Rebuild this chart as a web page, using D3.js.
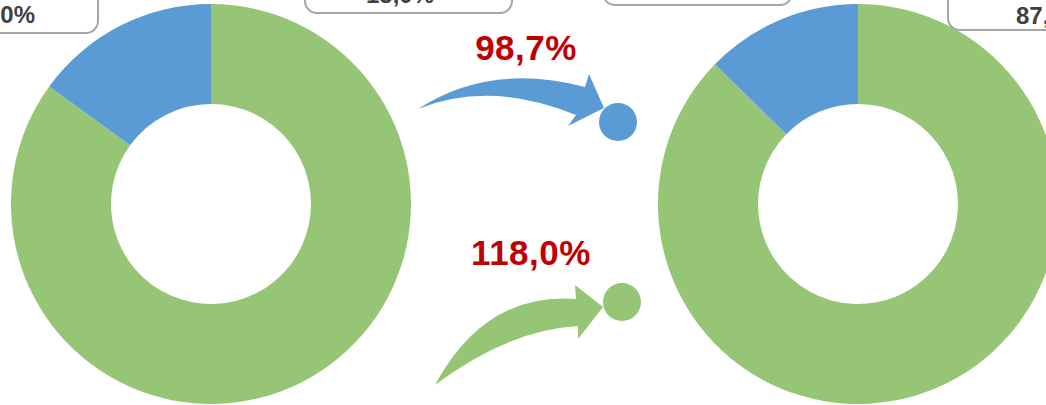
<!DOCTYPE html>
<html lang="en">
<head>
  <meta charset="utf-8">
  <title>Donut comparison</title>
  <script src="https://d3js.org/d3.v7.min.js"></script>
  <style>
    html, body { margin: 0; padding: 0; background: #fff; overflow: hidden; }
    svg { display: block; }
  </style>
</head>
<body>
  <svg width="1046" height="405"></svg>

  <script>
  // data
  const periods = ["Period 1", "Period 2"];
  const categories = ["Green", "Blue"];
  const shares = [
    [85.0, 15.0],
    [87.3, 12.7]
  ];
  const shareLabels = [["85,0%", "15,0%"], ["12,7%", "87,3%"]];
  const growthLabels = ["98,7%", "118,0%"];
  const colors = ["#96c675", "#5b9bd5"];

  const svg = d3.select("svg");
  const width = 1046, height = 405;

  const x = d3.scalePoint().domain(periods).range([211, 858]);
  const cy = 204;
  const outerR = 200, innerR = 100;

  const pie = d3.pie().sort(null).value(d => d);
  const arc = d3.arc().innerRadius(innerR).outerRadius(outerR);

  // Draw the donuts
  periods.forEach((p, i) => {
    svg.append("g")
      .attr("transform", `translate(${x(p)},${cy})`)
      .selectAll("path")
      .data(pie(shares[i]))
      .enter().append("path")
      .attr("d", arc)
      .attr("fill", (d, j) => colors[j]);
  });

  // Data label boxes (mostly off the top edge)
  const boxes = [
    {x0: -90, x1: 98, y1: 33, text: shareLabels[0][0], tx: 35, ty: 23, anchor: "end"},
    {x0: 305, x1: 512, y1: 13, text: shareLabels[0][1], tx: 400, ty: 3, anchor: "middle"},
    {x0: 603, x1: 792, y1: 5, text: shareLabels[1][0], tx: 697, ty: -8, anchor: "middle"},
    {x0: 948, x1: 1140, y1: 30, text: shareLabels[1][1], tx: 1016, ty: 24, anchor: "start"}
  ];
  const lab = svg.append("g");
  lab.selectAll("rect")
    .data(boxes)
    .enter().append("rect")
    .attr("x", d => d.x0)
    .attr("y", d => d.y1 - 60)
    .attr("width", d => d.x1 - d.x0)
    .attr("height", 60)
    .attr("rx", 12)
    .attr("fill", "#fff")
    .attr("stroke", "#a6a6a6")
    .attr("stroke-width", 2);
  lab.selectAll("text")
    .data(boxes)
    .enter().append("text")
    .attr("x", d => d.tx)
    .attr("y", d => d.ty)
    .attr("text-anchor", d => d.anchor)
    .attr("font-family", "'Liberation Sans', Arial, sans-serif")
    .attr("font-weight", "bold")
    .attr("font-size", 24)
    .attr("fill", "#404040")
    .text(d => d.text);

  // Growth arrows
  const arrows = [
    {
      color: colors[1],
      d: "M418,109 Q490,62 585,87 L589,74 L604,108 L568,126 L576,115 Q490,80 418,109 Z",
      dot: [618, 122],
      label: growthLabels[0], lx: 526, ly: 60
    },
    {
      color: colors[0],
      d: "M435,385 Q485,292 576,299 L575,285 L603,307 L578,339 L578,326 Q508,330 435,385 Z",
      dot: [622, 302],
      label: growthLabels[1], lx: 531, ly: 265
    }
  ];
  const arr = svg.append("g");
  arrows.forEach(a => {
    arr.append("path").attr("d", a.d).attr("fill", a.color);
    arr.append("circle")
      .attr("cx", a.dot[0]).attr("cy", a.dot[1]).attr("r", 19)
      .attr("fill", a.color);
    arr.append("text")
      .attr("x", a.lx).attr("y", a.ly)
      .attr("text-anchor", "middle")
      .attr("font-family", "'Liberation Sans', Arial, sans-serif")
      .attr("font-weight", "bold")
      .attr("font-size", 35)
      .attr("letter-spacing", 0.5)
      .attr("fill", "#c00000")
      .text(a.label);
  });
  </script>
</body>
</html>
